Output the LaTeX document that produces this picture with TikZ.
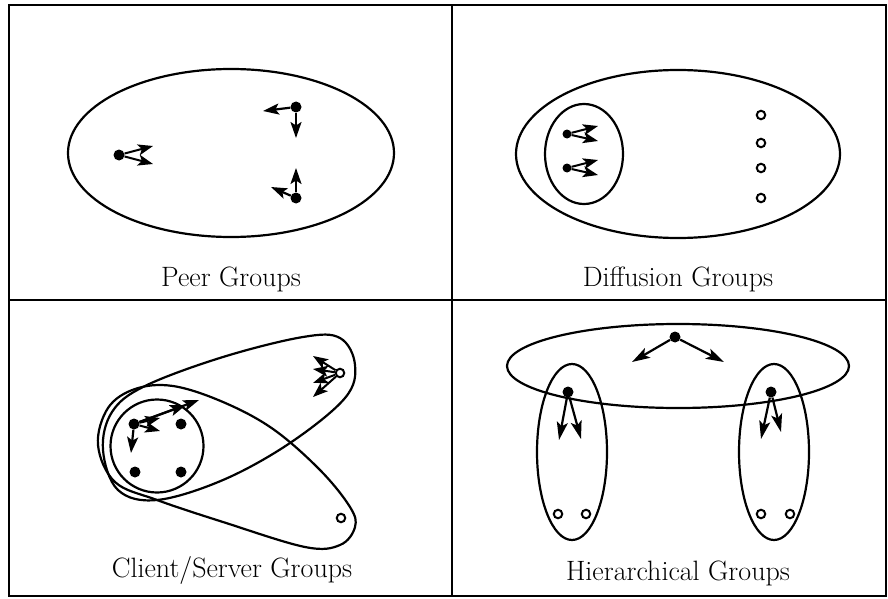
\documentclass[tikz,border=0pt]{standalone}
\usetikzlibrary{arrows.meta}
\begin{document}
\begin{tikzpicture}[x=1pt,y=-1pt,
  frame/.style={line width=2.2pt},
  grp/.style={line width=2.2pt},
  dot/.style={circle,fill=black,inner sep=0pt,minimum size=11pt},
  sdot/.style={circle,fill=black,inner sep=0pt,minimum size=9pt},
  odot/.style={circle,draw=black,line width=2pt,fill=white,inner sep=0pt,minimum size=8.5pt},
  arr/.style={line width=2.2pt,-{Stealth[length=16pt,width=11pt,inset=3.5pt]}},
  sarr/.style={line width=2pt,-{Stealth[length=15pt,width=11pt,inset=3.5pt]}},
  harr/.style={line width=2.2pt,-{Stealth[length=18pt,width=11pt,inset=4pt]}},
  lbl/.style={font=\fontsize{28}{33}\selectfont,anchor=base,inner sep=0pt}]
\useasboundingbox (0,0) rectangle (888,599);
\fill[white] (0,0) rectangle (888,599);
% frame
\draw[frame] (9,5) rectangle (886,596);
\draw[frame] (9,300) -- (886,300);
\draw[frame] (452,5) -- (452,596);

% ---------- Peer Groups ----------
\draw[grp] (231,153) ellipse [x radius=163pt, y radius=84pt];
\node[dot] (pa) at (119,155) {};
\node[dot] (pb) at (296,107) {};
\node[dot] (pc) at (296,198) {};
\coordinate (pa1) at (153,146);
\coordinate (pa2) at (153,164);
\coordinate (pb1) at (263,111);
\coordinate (pb2) at (296,138);
\coordinate (pc1) at (296,168);
\coordinate (pc2) at (271,187);
\draw[sarr] (pa) -- (pa1);
\draw[sarr] (pa) -- (pa2);
\draw[arr] (pb) -- (pb1);
\draw[arr] (pb) -- (pb2);
\draw[arr] (pc) -- (pc1);
\draw[arr] (pc) -- (pc2);
\node[lbl] (t1) at (231,286) {Peer Groups};

% ---------- Diffusion Groups ----------
\draw[grp] (678,154) ellipse [x radius=162pt, y radius=84pt];
\draw[grp] (584,154) ellipse [x radius=39pt, y radius=50pt];
\node[sdot] (da) at (567,134) {};
\node[sdot] (db) at (567,168) {};
\coordinate (da1) at (598,126);
\coordinate (da2) at (598,141);
\coordinate (db1) at (598,160);
\coordinate (db2) at (598,175);
\draw[sarr] (da) -- (da1);
\draw[sarr] (da) -- (da2);
\draw[sarr] (db) -- (db1);
\draw[sarr] (db) -- (db2);
\node[odot] (o1) at (761,115) {};
\node[odot] (o2) at (761,143) {};
\node[odot] (o3) at (761,168) {};
\node[odot] (o4) at (761,198) {};
\node[lbl] (t2) at (678,286) {Diffusion Groups};

% ---------- Client/Server Groups ----------
\draw[grp] plot[smooth cycle, tension=0.6] coordinates {
  (103,450) (112,412) (145,386) (223,357) (303,337) (340,338) (355,365)
  (345,398) (290,443) (223,480) (157,500) (118,490)};
\draw[grp] plot[smooth cycle, tension=0.6] coordinates {
  (98,445) (108,408) (135,389) (173,386) (223,402) (273,429) (320,470)
  (350,507) (355,527) (340,545) (305,547) (223,522) (157,500) (115,482)};
\draw[grp] (157,446) circle [radius=46.5pt];
\node[dot] (cc) at (134,424) {};
\node[dot] (c2) at (181,424) {};
\node[dot] (c3) at (135,472) {};
\node[dot] (c4) at (181,472) {};
\coordinate (cc1) at (199,400);
\coordinate (cc2) at (186,405);
\coordinate (cc3) at (131,453);
\coordinate (cc4) at (160,418);
\coordinate (cc5) at (160,431);
\draw[arr] (cc) -- (cc1);
\draw[arr] (cc) -- (cc2);
\draw[arr] (cc) -- (cc3);
\draw[sarr] (cc) -- (cc4);
\draw[sarr] (cc) -- (cc5);
\node[odot] (sv) at (340,373) {};
\coordinate (sv1) at (313,356);
\coordinate (sv2) at (313,369);
\coordinate (sv3) at (313,383);
\coordinate (sv4) at (313,397);
\draw[sarr] (sv) -- (sv1);
\draw[sarr] (sv) -- (sv2);
\draw[sarr] (sv) -- (sv3);
\draw[sarr] (sv) -- (sv4);
\node[odot] (cl) at (341,518) {};
\node[lbl] (t3) at (232,577) {Client/Server Groups};

% ---------- Hierarchical Groups ----------
\draw[grp] (678,366) ellipse [x radius=171pt, y radius=42pt];
\draw[grp] (572,452) ellipse [x radius=35pt, y radius=88pt];
\draw[grp] (774,452) ellipse [x radius=35pt, y radius=88pt];
\node[dot] (ht) at (675,337) {};
\node[dot] (hl) at (568,392) {};
\node[dot] (hr) at (771,392) {};
\coordinate (ht1) at (632,362);
\coordinate (ht2) at (724,362);
\coordinate (hl1) at (559,440);
\coordinate (hl2) at (581,439);
\coordinate (hr1) at (761,439);
\coordinate (hr2) at (781,432);
\draw[harr] (ht) -- (ht1);
\draw[harr] (ht) -- (ht2);
\draw[harr] (hl) -- (hl1);
\draw[harr] (hl) -- (hl2);
\draw[harr] (hr) -- (hr1);
\draw[harr] (hr) -- (hr2);
\node[odot] (h1) at (558,514) {};
\node[odot] (h2) at (586,514) {};
\node[odot] (h3) at (761,514) {};
\node[odot] (h4) at (790,514) {};
\node[lbl] (t4) at (678,580) {Hierarchical Groups};
\end{tikzpicture}
\end{document}
